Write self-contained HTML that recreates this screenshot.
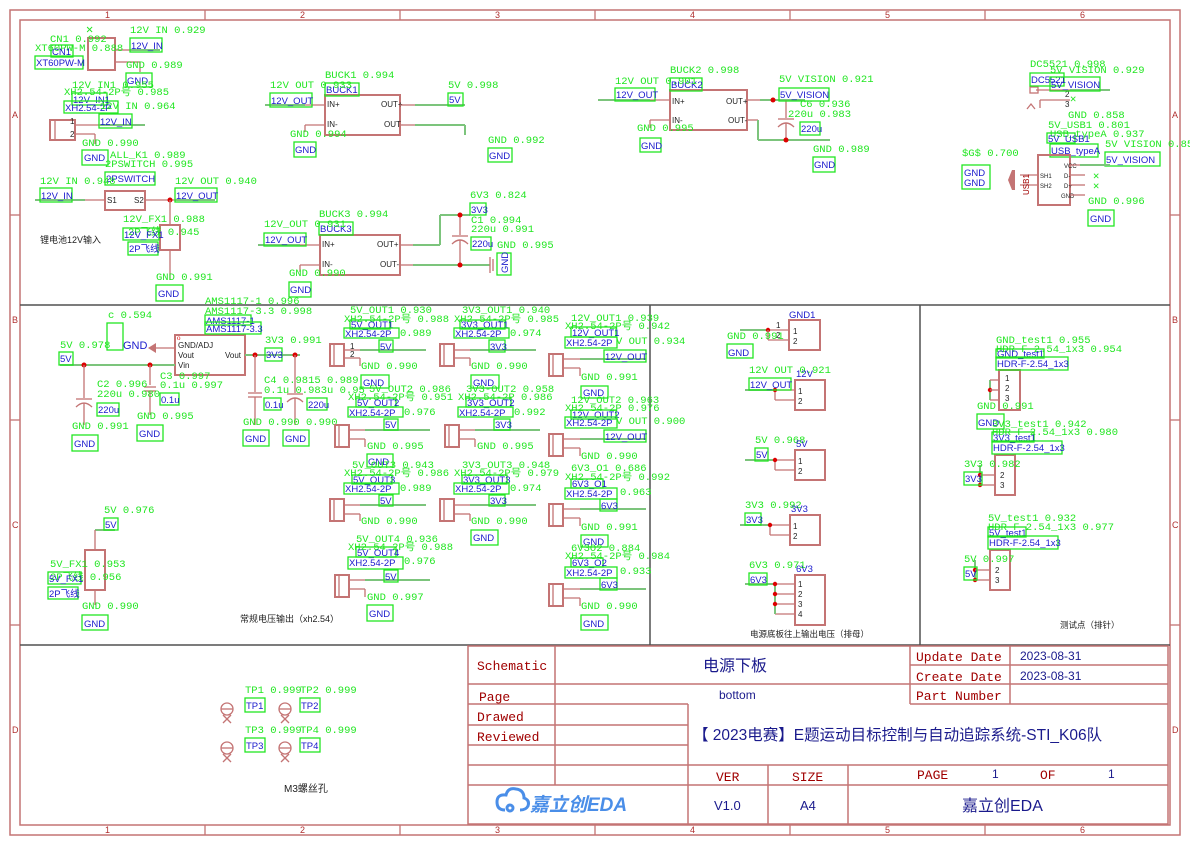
<!DOCTYPE html>
<html><head><meta charset="utf-8">
<style>
html,body{margin:0;padding:0;background:#fff;}
svg{display:block;}
.g{fill:#22e622;font-family:"Liberation Mono","Noto Sans CJK SC",monospace;font-size:10.5px;}
.b{fill:#1a1acc;font-family:"Liberation Sans","Noto Sans CJK SC",sans-serif;font-size:9.5px;}
.bx{fill:none;stroke:#22e622;stroke-width:1.3;}
.r{fill:none;stroke:#c47474;stroke-width:2;}
.rt{fill:none;stroke:#c47474;stroke-width:1.3;}
.w{fill:none;stroke:#7cc47c;stroke-width:2;}
.k{fill:#222;font-family:"Liberation Sans","Noto Sans CJK SC",sans-serif;font-size:8px;}
.rd{fill:#d00;}
.m{fill:#a00000;font-family:"Liberation Mono",monospace;font-size:13px;}
.tb{fill:#1a1a8c;font-family:"Liberation Sans","Noto Sans CJK SC",sans-serif;}
.ru{fill:#b03030;font-family:"Liberation Sans",sans-serif;font-size:9px;}
</style></head>
<body>
<svg width="1190" height="845" viewBox="0 0 1190 845" xmlns="http://www.w3.org/2000/svg">
<!-- frame -->
<rect x="10" y="10" width="1170" height="825" fill="none" stroke="#c47474" stroke-width="1.5"/>
<rect x="20" y="20" width="1150" height="805" fill="none" stroke="#c47474" stroke-width="1.5"/>
<g stroke="#c47474" stroke-width="1.3">
<line x1="205" y1="10" x2="205" y2="20"/><line x1="400" y1="10" x2="400" y2="20"/><line x1="595" y1="10" x2="595" y2="20"/><line x1="790" y1="10" x2="790" y2="20"/><line x1="985" y1="10" x2="985" y2="20"/>
<line x1="205" y1="825" x2="205" y2="835"/><line x1="400" y1="825" x2="400" y2="835"/><line x1="595" y1="825" x2="595" y2="835"/><line x1="790" y1="825" x2="790" y2="835"/><line x1="985" y1="825" x2="985" y2="835"/>
<line x1="10" y1="215" x2="20" y2="215"/><line x1="10" y1="420" x2="20" y2="420"/><line x1="10" y1="625" x2="20" y2="625"/>
<line x1="1170" y1="215" x2="1180" y2="215"/><line x1="1170" y1="420" x2="1180" y2="420"/><line x1="1170" y1="625" x2="1180" y2="625"/>
</g>
<g class="ru">
<text x="105" y="18">1</text><text x="300" y="18">2</text><text x="495" y="18">3</text><text x="690" y="18">4</text><text x="885" y="18">5</text><text x="1080" y="18">6</text>
<text x="105" y="833">1</text><text x="300" y="833">2</text><text x="495" y="833">3</text><text x="690" y="833">4</text><text x="885" y="833">5</text><text x="1080" y="833">6</text>
<text x="12" y="118">A</text><text x="12" y="323">B</text><text x="12" y="528">C</text><text x="12" y="733">D</text>
<text x="1172" y="118">A</text><text x="1172" y="323">B</text><text x="1172" y="528">C</text><text x="1172" y="733">D</text>
</g>
<!-- section lines -->
<g stroke="#505050" stroke-width="1.5">
<line x1="20" y1="305" x2="1170" y2="305"/>
<line x1="650" y1="305" x2="650" y2="645"/>
<line x1="920" y1="305" x2="920" y2="645"/>
<line x1="20" y1="645" x2="1170" y2="645"/>
</g>

<!-- ===== TOP LEFT: CN1 ===== -->
<rect class="r" x="88" y="38" width="27" height="32"/>
<text x="86" y="33" class="g" style="font-size:12px">✕</text>
<line class="rt" x1="115" y1="50" x2="130" y2="50"/><line class="rt" x1="115" y1="62" x2="130" y2="62"/>
<line class="w" x1="130" y1="50" x2="160" y2="50"/>
<line class="rt" x1="130" y1="62" x2="140" y2="62"/><line class="rt" x1="140" y1="62" x2="140" y2="72"/>
<text class="g" x="50" y="42">CN1 0.992</text>
<text class="g" x="35" y="51">XT60PW-M 0.888</text>
<rect class="bx" x="51" y="45" width="22" height="12"/><text class="b" x="52" y="55">CN1</text>
<rect class="bx" x="35" y="56" width="48" height="13"/><text class="b" x="36" y="66">XT60PW-M</text>
<text class="g" x="130" y="33">12V IN 0.929</text>
<rect class="bx" x="130" y="38" width="32" height="14"/><text class="b" x="131" y="49">12V_IN</text>
<text class="g" x="126" y="68">GND 0.989</text>
<rect class="bx" x="126" y="73" width="26" height="14"/><text class="b" x="127" y="84">GND</text>
<!-- 12V_IN1 -->
<rect class="r" x="50" y="120" width="25" height="20"/><line class="rt" x1="55" y1="120" x2="55" y2="140"/>
<line class="rt" x1="75" y1="125" x2="100" y2="125"/><line class="w" x1="100" y1="125" x2="145" y2="125"/>
<line class="rt" x1="75" y1="134" x2="95" y2="134"/><line class="rt" x1="95" y1="134" x2="95" y2="144"/>
<text class="k" x="70" y="124">1</text><text class="k" x="70" y="137">2</text>
<text class="g" x="72" y="88">12V IN1 0.955</text>
<text class="g" x="64" y="95">XH2.54-2P号 0.985</text>
<rect class="bx" x="72" y="93" width="35" height="12"/><text class="b" x="73" y="103">12V_IN1</text>
<rect class="bx" x="64" y="101" width="54" height="12"/><text class="b" x="65" y="111">XH2.54-2P</text>
<text class="g" x="100" y="109">12V IN 0.964</text>
<rect class="bx" x="99" y="114" width="33" height="14"/><text class="b" x="100" y="125">12V_IN</text>
<text class="g" x="82" y="146">GND 0.990</text>
<rect class="bx" x="82" y="150" width="26" height="15"/><text class="b" x="84" y="161">GND</text>
<!-- switch -->
<line class="w" x1="35" y1="200" x2="85" y2="200"/><line class="rt" x1="85" y1="200" x2="105" y2="200"/>
<rect class="r" x="105" y="191" width="40" height="19"/>
<text class="k" x="107" y="203">S1</text><text class="k" x="134" y="203">S2</text>
<line class="rt" x1="145" y1="200" x2="175" y2="200"/><line class="w" x1="175" y1="200" x2="215" y2="200"/>
<circle class="rd" cx="170" cy="200" r="2.5"/>
<line class="rt" x1="170" y1="200" x2="170" y2="225"/>
<rect class="r" x="160" y="225" width="20" height="25"/>
<line class="rt" x1="170" y1="250" x2="170" y2="280"/>
<text class="g" x="110" y="158">ALL_K1 0.989</text>
<text class="g" x="105" y="167">2PSWITCH 0.995</text>
<rect class="bx" x="105" y="172" width="50" height="13"/><text class="b" x="106" y="182">2PSWITCH</text>
<text class="g" x="40" y="184">12V IN 0.948</text>
<rect class="bx" x="40" y="188" width="32" height="14"/><text class="b" x="41" y="199">12V_IN</text>
<text class="g" x="175" y="184">12V OUT 0.940</text>
<rect class="bx" x="175" y="188" width="42" height="14"/><text class="b" x="176" y="199">12V_OUT</text>
<text class="g" x="123" y="222">12V_FX1 0.988</text>
<text class="g" x="128" y="235">2P飞线 0.945</text>
<rect class="bx" x="123" y="228" width="36" height="12"/><text class="b" x="124" y="238">12V_FX1</text>
<rect class="bx" x="128" y="242" width="30" height="13"/><text class="b" x="129" y="252">2P飞线</text>
<text x="40" y="243" class="k" style="font-size:9px">锂电池12V输入</text>
<text class="g" x="156" y="280">GND 0.991</text>
<rect class="bx" x="156" y="285" width="27" height="16"/><text class="b" x="158" y="297">GND</text>

<!-- BUCK1 -->
<rect class="r" x="325" y="95" width="75" height="40"/>
<text class="k" x="327" y="107">IN+</text><text class="k" x="327" y="127">IN-</text>
<text class="k" x="381" y="107">OUT+</text><text class="k" x="384" y="127">OUT-</text>
<line class="w" x1="265" y1="105" x2="305" y2="105"/><line class="rt" x1="305" y1="105" x2="325" y2="105"/>
<line class="rt" x1="305" y1="125" x2="325" y2="125"/><line class="rt" x1="305" y1="125" x2="305" y2="132"/>
<line class="rt" x1="400" y1="105" x2="415" y2="105"/><line class="w" x1="415" y1="105" x2="465" y2="105"/>
<line class="rt" x1="400" y1="125" x2="415" y2="125"/><line class="w" x1="415" y1="125" x2="465" y2="125"/><line class="w" x1="465" y1="125" x2="465" y2="135"/>
<text class="g" x="325" y="78">BUCK1 0.994</text>
<rect class="bx" x="325" y="83" width="34" height="13"/><text class="b" x="326" y="93">BUCK1</text>
<text class="g" x="270" y="88">12V OUT 0.933</text>
<rect class="bx" x="270" y="93" width="42" height="14"/><text class="b" x="271" y="104">12V_OUT</text>
<text class="g" x="290" y="137">GND 0.994</text>
<rect class="bx" x="294" y="142" width="22" height="15"/><text class="b" x="295" y="153">GND</text>
<text class="g" x="448" y="88">5V 0.998</text>
<rect class="bx" x="448" y="93" width="15" height="13"/><text class="b" x="449" y="103">5V</text>
<text class="g" x="488" y="143">GND 0.992</text>
<rect class="bx" x="488" y="148" width="24" height="14"/><text class="b" x="489" y="159">GND</text>

<!-- BUCK3 -->
<rect class="r" x="320" y="235" width="80" height="40"/>
<text class="k" x="322" y="247">IN+</text><text class="k" x="322" y="267">IN-</text>
<text class="k" x="377" y="247">OUT+</text><text class="k" x="380" y="267">OUT-</text>
<line class="w" x1="258" y1="245" x2="300" y2="245"/><line class="rt" x1="300" y1="245" x2="320" y2="245"/>
<line class="rt" x1="300" y1="265" x2="320" y2="265"/><line class="rt" x1="300" y1="265" x2="300" y2="272"/>
<line class="rt" x1="400" y1="245" x2="413" y2="245"/><line class="w" x1="413" y1="245" x2="440" y2="245"/><line class="w" x1="440" y1="245" x2="440" y2="215"/><line class="w" x1="440" y1="215" x2="470" y2="215"/>
<line class="rt" x1="400" y1="265" x2="413" y2="265"/><line class="w" x1="413" y1="265" x2="490" y2="265"/>
<line class="rt" x1="460" y1="215" x2="460" y2="235"/><line class="rt" x1="452" y1="236" x2="468" y2="236"/><path class="rt" d="M452 244 Q460 236 468 244"/><line class="rt" x1="460" y1="240" x2="460" y2="265"/>
<circle class="rd" cx="460" cy="215" r="2.5"/><circle class="rd" cx="460" cy="265" r="2.5"/>
<line class="rt" x1="490" y1="257" x2="490" y2="273"/><line class="rt" x1="493" y1="259" x2="493" y2="271"/>
<text class="g" x="319" y="217">BUCK3 0.994</text>
<rect class="bx" x="319" y="222" width="34" height="13"/><text class="b" x="320" y="232">BUCK3</text>
<text class="g" x="264" y="227">12V_OUT 0.931</text>
<rect class="bx" x="264" y="233" width="42" height="13"/><text class="b" x="265" y="243">12V_OUT</text>
<text class="g" x="289" y="276">GND 0.990</text>
<rect class="bx" x="289" y="282" width="22" height="15"/><text class="b" x="290" y="293">GND</text>
<text class="g" x="470" y="198">6V3 0.824</text>
<rect class="bx" x="470" y="203" width="16" height="12"/><text class="b" x="471" y="213">3V3</text>
<text class="g" x="471" y="223">C1 0.994</text>
<text class="g" x="471" y="232">220u 0.991</text>
<rect class="bx" x="471" y="237" width="20" height="13"/><text class="b" x="472" y="247">220u</text>
<text class="g" x="497" y="248">GND 0.995</text>
<rect class="bx" x="497" y="253" width="14" height="22"/><text class="b" x="0" y="0" transform="translate(508,273) rotate(-90)">GND</text>

<!-- BUCK2 -->
<rect class="r" x="670" y="90" width="77" height="40"/>
<text class="k" x="672" y="104">IN+</text><text class="k" x="672" y="123">IN-</text>
<text class="k" x="726" y="104">OUT+</text><text class="k" x="728" y="123">OUT-</text>
<line class="w" x1="598" y1="100" x2="650" y2="100"/><line class="rt" x1="650" y1="100" x2="670" y2="100"/>
<line class="rt" x1="650" y1="120" x2="670" y2="120"/><line class="rt" x1="650" y1="120" x2="650" y2="128"/>
<line class="rt" x1="747" y1="100" x2="760" y2="100"/><line class="w" x1="760" y1="100" x2="805" y2="100"/>
<line class="rt" x1="747" y1="120" x2="758" y2="120"/><line class="w" x1="758" y1="120" x2="758" y2="140"/><line class="w" x1="758" y1="140" x2="830" y2="140"/>
<line class="rt" x1="786" y1="100" x2="786" y2="118"/><line class="rt" x1="778" y1="119" x2="794" y2="119"/><path class="rt" d="M778 127 Q786 119 794 127"/><line class="rt" x1="786" y1="123" x2="786" y2="140"/>
<circle class="rd" cx="773" cy="100" r="2.5"/><circle class="rd" cx="786" cy="140" r="2.5"/>
<text class="g" x="670" y="73">BUCK2 0.998</text>
<rect class="bx" x="670" y="78" width="32" height="13"/><text class="b" x="671" y="88">BUCK2</text>
<text class="g" x="615" y="84">12V OUT 0.901</text>
<rect class="bx" x="615" y="88" width="40" height="13"/><text class="b" x="616" y="98">12V_OUT</text>
<text class="g" x="637" y="131">GND 0.995</text>
<rect class="bx" x="640" y="138" width="21" height="14"/><text class="b" x="641" y="149">GND</text>
<text class="g" x="779" y="82">5V VISION 0.921</text>
<rect class="bx" x="779" y="88" width="50" height="13"/><text class="b" x="780" y="98">5V_VISION</text>
<text class="g" x="800" y="107">C6 0.936</text>
<text class="g" x="788" y="117">220u 0.983</text>
<rect class="bx" x="800" y="122" width="20" height="13"/><text class="b" x="801" y="132">220u</text>
<text class="g" x="813" y="152">GND 0.989</text>
<rect class="bx" x="813" y="157" width="22" height="15"/><text class="b" x="814" y="168">GND</text>

<!-- DC5521 / USB -->
<rect class="rt" x="1030" y="87" width="8" height="6"/>
<line class="rt" x1="1036" y1="90" x2="1070" y2="90"/><line class="w" x1="1070" y1="90" x2="1110" y2="90"/>
<line class="rt" x1="1040" y1="100" x2="1070" y2="100"/><line class="rt" x1="1040" y1="100" x2="1040" y2="108"/>
<path class="rt" d="M1027 109 L1031 104 L1035 109"/>
<text class="k" x="1065" y="97">2</text><text class="k" x="1065" y="107">3</text>
<text class="g" x="1070" y="102">✕</text>
<text class="g" x="1030" y="67">DC5521 0.998</text>
<rect class="bx" x="1030" y="73" width="34" height="13"/><text class="b" x="1031" y="83">DC5521</text>
<text class="g" x="1050" y="73">5V VISION 0.929</text>
<rect class="bx" x="1050" y="77" width="50" height="14"/><text class="b" x="1051" y="88">5V_VISION</text>
<text class="g" x="1068" y="118">GND 0.858</text>
<text class="g" x="1048" y="128">5V_USB1 0.801</text>
<text class="g" x="1050" y="137">USB_typeA 0.937</text>
<rect class="bx" x="1047" y="133" width="28" height="10"/><text class="b" x="1048" y="142">5V_USB1</text>
<rect class="bx" x="1050" y="144" width="48" height="13"/><text class="b" x="1051" y="154">USB_typeA</text>
<text class="g" x="1105" y="147">5V VISION 0.85</text>
<rect class="bx" x="1105" y="152" width="55" height="14"/><text class="b" x="1106" y="163">5V_VISION</text>
<rect class="r" x="1038" y="155" width="32" height="50"/>
<text class="k" x="1064" y="168" style="font-size:6px">VCC</text><text class="k" x="1064" y="178" style="font-size:6px">D-</text><text class="k" x="1064" y="188" style="font-size:6px">D+</text><text class="k" x="1061" y="198" style="font-size:6px">GND</text>
<text class="k" x="1040" y="178" style="font-size:6px">SH1</text><text class="k" x="1040" y="188" style="font-size:6px">SH2</text>
<line class="rt" x1="1070" y1="165" x2="1080" y2="165"/><line class="w" x1="1080" y1="165" x2="1110" y2="165"/>
<line class="rt" x1="1070" y1="175" x2="1085" y2="175"/><line class="rt" x1="1070" y1="185" x2="1085" y2="185"/><line class="rt" x1="1070" y1="195" x2="1085" y2="195"/>
<text class="g" x="1093" y="179">✕</text><text class="g" x="1093" y="189">✕</text>
<line class="rt" x1="1020" y1="175" x2="1038" y2="175"/><line class="rt" x1="1020" y1="185" x2="1038" y2="185"/>
<path d="M1012 170 L1008 180 L1012 190 L1015 190 L1015 170 Z" fill="#c47474"/>
<text x="0" y="0" transform="translate(1029,195) rotate(-90)" style="fill:#a00000;font-family:'Liberation Sans';font-size:8px">USB1</text>
<text class="g" x="962" y="156">$G$ 0.700</text>
<rect class="bx" x="962" y="165" width="28" height="24"/><text class="b" x="964" y="176">GND</text><text class="b" x="964" y="186">GND</text>
<text class="g" x="1088" y="204">GND 0.996</text>
<rect class="bx" x="1088" y="210" width="26" height="16"/><text class="b" x="1090" y="222">GND</text>

<!-- ===== MIDDLE: AMS1117 ===== -->
<rect class="r" x="175" y="335" width="70" height="40"/>
<text class="k" x="178" y="348">GND/ADJ</text><text class="k" x="178" y="358">Vout</text><text class="k" x="225" y="358">Vout</text><text class="k" x="178" y="368">Vin</text>
<text x="177" y="340" style="fill:#d00;font-size:7px">o</text>
<rect class="bx" x="107" y="323" width="16" height="27"/>
<text class="b" x="123" y="349" style="font-size:11px">GND</text>
<path d="M148 348 L156 343 L156 353 Z" fill="#c47474"/><line class="rt" x1="156" y1="348" x2="175" y2="348"/>
<line class="w" x1="60" y1="365" x2="175" y2="365"/>
<line class="w" x1="245" y1="355" x2="300" y2="355"/>
<circle class="rd" cx="84" cy="365" r="2.5"/><circle class="rd" cx="150" cy="365" r="2.5"/>
<circle class="rd" cx="255" cy="355" r="2.5"/><circle class="rd" cx="295" cy="355" r="2.5"/>
<line class="rt" x1="84" y1="365" x2="84" y2="398"/><line class="rt" x1="76" y1="399" x2="92" y2="399"/><path class="rt" d="M76 407 Q84 399 92 407"/><line class="rt" x1="84" y1="403" x2="84" y2="425"/>
<line class="rt" x1="150" y1="365" x2="150" y2="385"/><line class="rt" x1="144" y1="387" x2="156" y2="387"/><line class="rt" x1="144" y1="391" x2="156" y2="391"/><line class="rt" x1="150" y1="391" x2="150" y2="415"/>
<line class="rt" x1="255" y1="355" x2="255" y2="392"/><line class="rt" x1="248" y1="393" x2="262" y2="393"/><line class="rt" x1="248" y1="397" x2="262" y2="397"/><line class="rt" x1="255" y1="397" x2="255" y2="425"/>
<line class="rt" x1="295" y1="355" x2="295" y2="393"/><line class="rt" x1="287" y1="394" x2="303" y2="394"/><path class="rt" d="M287 402 Q295 394 303 402"/><line class="rt" x1="295" y1="398" x2="295" y2="425"/>
<text class="g" x="205" y="304">AMS1117-1 0.996</text>
<text class="g" x="205" y="314">AMS1117-3.3 0.998</text>
<rect class="bx" x="205" y="315" width="46" height="10"/><text class="b" x="206" y="324">AMS1117-1</text>
<rect class="bx" x="205" y="322" width="56" height="12"/><text class="b" x="206" y="332">AMS1117-3.3</text>
<text class="g" x="108" y="318">c 0.594</text>
<text class="g" x="60" y="348">5V 0.978</text>
<rect class="bx" x="59" y="352" width="14" height="13"/><text class="b" x="60" y="362">5V</text>
<text class="g" x="265" y="343">3V3 0.991</text>
<rect class="bx" x="265" y="348" width="17" height="13"/><text class="b" x="266" y="358">3V3</text>
<text class="g" x="97" y="387">C2 0.996</text>
<text class="g" x="97" y="397">220u 0.980</text>
<rect class="bx" x="97" y="403" width="22" height="13"/><text class="b" x="98" y="413">220u</text>
<text class="g" x="160" y="379">C3 0.997</text>
<text class="g" x="160" y="388">0.1u 0.997</text>
<rect class="bx" x="160" y="393" width="19" height="12"/><text class="b" x="161" y="403">0.1u</text>
<text class="g" x="137" y="419">GND 0.995</text>
<rect class="bx" x="137" y="425" width="26" height="16"/><text class="b" x="139" y="437">GND</text>
<text class="g" x="72" y="429">GND 0.991</text>
<rect class="bx" x="72" y="435" width="26" height="16"/><text class="b" x="74" y="447">GND</text>
<text class="g" x="264" y="383">C4 0.9815 0.989</text>
<text class="g" x="264" y="393">0.1u 0.983u 0.95</text>
<rect class="bx" x="264" y="398" width="17" height="12"/><text class="b" x="265" y="408">0.1u</text>
<rect class="bx" x="307" y="398" width="20" height="12"/><text class="b" x="308" y="408">220u</text>
<text class="g" x="243" y="425">GND 0.990 0.990</text>
<rect class="bx" x="243" y="430" width="26" height="16"/><text class="b" x="245" y="442">GND</text>
<rect class="bx" x="283" y="430" width="26" height="16"/><text class="b" x="285" y="442">GND</text>
<!-- 5V_FX1 -->
<line class="w" x1="95" y1="530" x2="115" y2="530"/><line class="rt" x1="95" y1="530" x2="95" y2="550"/>
<rect class="r" x="85" y="550" width="20" height="40"/>
<line class="rt" x1="95" y1="590" x2="95" y2="605"/>
<text class="g" x="104" y="513">5V 0.976</text>
<rect class="bx" x="104" y="518" width="14" height="12"/><text class="b" x="105" y="528">5V</text>
<text class="g" x="50" y="567">5V_FX1 0.953</text>
<text class="g" x="50" y="580">2P飞线 0.956</text>
<rect class="bx" x="48" y="572" width="33" height="12"/><text class="b" x="49" y="582">5V_FX1</text>
<rect class="bx" x="48" y="587" width="30" height="12"/><text class="b" x="49" y="597">2P飞线</text>
<text class="g" x="82" y="609">GND 0.990</text>
<rect class="bx" x="82" y="615" width="26" height="15"/><text class="b" x="84" y="627">GND</text>
<text x="240" y="622" class="k" style="font-size:9px">常规电压输出（xh2.54）</text>

<!-- XH connectors col1 -->
<g>
<rect class="r" x="330" y="344" width="14" height="22"/><line class="rt" x1="334" y1="344" x2="334" y2="366"/>
<line class="rt" x1="344" y1="350" x2="360" y2="350"/><line class="w" x1="360" y1="350" x2="426" y2="350"/>
<line class="rt" x1="344" y1="358" x2="360" y2="358"/><line class="rt" x1="360" y1="358" x2="360" y2="366"/>
<text class="k" x="350" y="349">1</text><text class="k" x="350" y="357">2</text>
<text class="g" x="350" y="313">5V_OUT1 0.930</text>
<text class="g" x="344" y="322">XH2.54-2P号 0.988</text>
<rect class="bx" x="350" y="320" width="40" height="9"/><text class="b" x="351" y="328">5V_OUT1</text>
<rect class="bx" x="344" y="328" width="55" height="10"/><text class="b" x="345" y="337">XH2.54-2P</text><text class="g" x="400" y="336">0.989</text>
<rect class="bx" x="379" y="340" width="14" height="12"/><text class="b" x="380" y="350">5V</text>
<text class="g" x="361" y="369">GND 0.990</text>
<rect class="bx" x="361" y="375" width="28" height="13"/><text class="b" x="363" y="386">GND</text>
</g>
<g>
<rect class="r" x="335" y="425" width="14" height="22"/><line class="rt" x1="339" y1="425" x2="339" y2="447"/>
<line class="rt" x1="349" y1="430" x2="365" y2="430"/><line class="w" x1="365" y1="430" x2="430" y2="430"/>
<line class="rt" x1="349" y1="439" x2="365" y2="439"/><line class="rt" x1="365" y1="439" x2="365" y2="447"/>
<text class="g" x="369" y="392">5V_OUT2 0.986</text>
<text class="g" x="348" y="400">XH2.54-2P号 0.951</text>
<rect class="bx" x="356" y="398" width="40" height="9"/><text class="b" x="357" y="406">5V_OUT2</text>
<rect class="bx" x="348" y="407" width="55" height="10"/><text class="b" x="349" y="416">XH2.54-2P</text><text class="g" x="404" y="415">0.976</text>
<rect class="bx" x="384" y="419" width="14" height="11"/><text class="b" x="385" y="428">5V</text>
<text class="g" x="367" y="449">GND 0.995</text>
<rect class="bx" x="367" y="454" width="26" height="13"/><text class="b" x="368" y="465">GND</text>
</g>
<g>
<rect class="r" x="330" y="499" width="14" height="22"/><line class="rt" x1="334" y1="499" x2="334" y2="521"/>
<line class="rt" x1="344" y1="505" x2="360" y2="505"/><line class="w" x1="360" y1="505" x2="426" y2="505"/>
<line class="rt" x1="344" y1="514" x2="360" y2="514"/><line class="rt" x1="360" y1="514" x2="360" y2="521"/>
<text class="g" x="352" y="468">5V_OUT3 0.943</text>
<text class="g" x="344" y="476">XH2.54-2P号 0.986</text>
<rect class="bx" x="352" y="475" width="40" height="9"/><text class="b" x="353" y="483">5V_OUT3</text>
<rect class="bx" x="344" y="483" width="55" height="11"/><text class="b" x="345" y="492">XH2.54-2P</text><text class="g" x="400" y="491">0.989</text>
<rect class="bx" x="379" y="495" width="14" height="11"/><text class="b" x="380" y="504">5V</text>
<text class="g" x="361" y="524">GND 0.990</text>
</g>
<g>
<rect class="r" x="335" y="575" width="14" height="22"/><line class="rt" x1="339" y1="575" x2="339" y2="597"/>
<line class="rt" x1="349" y1="580" x2="365" y2="580"/><line class="w" x1="365" y1="580" x2="430" y2="580"/>
<line class="rt" x1="349" y1="589" x2="365" y2="589"/><line class="rt" x1="365" y1="589" x2="365" y2="597"/>
<text class="g" x="356" y="542">5V_OUT4 0.936</text>
<text class="g" x="348" y="550">XH2.54-2P号 0.988</text>
<rect class="bx" x="356" y="547" width="40" height="10"/><text class="b" x="357" y="556">5V_OUT4</text>
<rect class="bx" x="348" y="557" width="55" height="12"/><text class="b" x="349" y="566">XH2.54-2P</text><text class="g" x="404" y="564">0.976</text>
<rect class="bx" x="384" y="570" width="14" height="12"/><text class="b" x="385" y="580">5V</text>
<text class="g" x="367" y="600">GND 0.997</text>
<rect class="bx" x="367" y="605" width="26" height="16"/><text class="b" x="369" y="617">GND</text>
</g>
<!-- col2 -->
<g transform="translate(110,0)">
<rect class="r" x="330" y="344" width="14" height="22"/><line class="rt" x1="334" y1="344" x2="334" y2="366"/>
<line class="rt" x1="344" y1="350" x2="360" y2="350"/><line class="w" x1="360" y1="350" x2="426" y2="350"/>
<line class="rt" x1="344" y1="358" x2="360" y2="358"/><line class="rt" x1="360" y1="358" x2="360" y2="366"/>
<text class="g" x="352" y="313">3V3_OUT1 0.940</text>
<text class="g" x="344" y="322">XH2.54-2P号 0.985</text>
<rect class="bx" x="350" y="320" width="45" height="9"/><text class="b" x="351" y="328">3V3_OUT1</text>
<rect class="bx" x="344" y="328" width="55" height="10"/><text class="b" x="345" y="337">XH2.54-2P</text><text class="g" x="400" y="336">0.974</text>
<rect class="bx" x="379" y="340" width="16" height="12"/><text class="b" x="380" y="350">3V3</text>
<text class="g" x="361" y="369">GND 0.990</text>
<rect class="bx" x="361" y="375" width="28" height="13"/><text class="b" x="363" y="386">GND</text>
</g>
<g transform="translate(110,0)">
<rect class="r" x="335" y="425" width="14" height="22"/><line class="rt" x1="339" y1="425" x2="339" y2="447"/>
<line class="rt" x1="349" y1="430" x2="365" y2="430"/><line class="w" x1="365" y1="430" x2="430" y2="430"/>
<line class="rt" x1="349" y1="439" x2="365" y2="439"/><line class="rt" x1="365" y1="439" x2="365" y2="447"/>
<text class="g" x="356" y="392">3V3-OUT2 0.958</text>
<text class="g" x="348" y="400">XH2.54-2P 0.986</text>
<rect class="bx" x="356" y="398" width="45" height="9"/><text class="b" x="357" y="406">3V3_OUT2</text>
<rect class="bx" x="348" y="407" width="55" height="10"/><text class="b" x="349" y="416">XH2.54-2P</text><text class="g" x="404" y="415">0.992</text>
<rect class="bx" x="384" y="419" width="16" height="11"/><text class="b" x="385" y="428">3V3</text>
<text class="g" x="367" y="449">GND 0.995</text>
</g>
<g transform="translate(110,0)">
<rect class="r" x="330" y="499" width="14" height="22"/><line class="rt" x1="334" y1="499" x2="334" y2="521"/>
<line class="rt" x1="344" y1="505" x2="360" y2="505"/><line class="w" x1="360" y1="505" x2="426" y2="505"/>
<line class="rt" x1="344" y1="514" x2="360" y2="514"/><line class="rt" x1="360" y1="514" x2="360" y2="521"/>
<text class="g" x="352" y="468">3V3_OUT3 0.948</text>
<text class="g" x="344" y="476">XH2.54-2P号 0.979</text>
<rect class="bx" x="352" y="475" width="45" height="9"/><text class="b" x="353" y="483">3V3_OUT3</text>
<rect class="bx" x="344" y="483" width="55" height="11"/><text class="b" x="345" y="492">XH2.54-2P</text><text class="g" x="400" y="491">0.974</text>
<rect class="bx" x="379" y="495" width="16" height="11"/><text class="b" x="380" y="504">3V3</text>
<text class="g" x="361" y="524">GND 0.990</text>
<rect class="bx" x="361" y="530" width="27" height="15"/><text class="b" x="363" y="541">GND</text>
</g>
<!-- col3 -->
<g>
<rect class="r" x="549" y="354" width="14" height="22"/><line class="rt" x1="553" y1="354" x2="553" y2="376"/>
<line class="rt" x1="563" y1="359" x2="580" y2="359"/><line class="w" x1="580" y1="359" x2="646" y2="359"/>
<line class="rt" x1="563" y1="368" x2="580" y2="368"/><line class="rt" x1="580" y1="368" x2="580" y2="376"/>
<text class="g" x="571" y="321">12V_OUT1 0.939</text>
<text class="g" x="565" y="329">XH2.54-2P号 0.942</text>
<rect class="bx" x="571" y="327" width="45" height="10"/><text class="b" x="572" y="336">12V_OUT1</text>
<rect class="bx" x="565" y="337" width="52" height="11"/><text class="b" x="566" y="346">XH2.54-2P</text><text class="g" x="616" y="344">V OUT 0.934</text>
<rect class="bx" x="604" y="350" width="42" height="12"/><text class="b" x="605" y="360">12V_OUT</text>
<text class="g" x="581" y="380">GND 0.991</text>
<rect class="bx" x="581" y="386" width="27" height="12"/><text class="b" x="583" y="396">GND</text>
</g>
<g>
<rect class="r" x="549" y="434" width="14" height="22"/><line class="rt" x1="553" y1="434" x2="553" y2="456"/>
<line class="rt" x1="563" y1="439" x2="580" y2="439"/><line class="w" x1="580" y1="439" x2="646" y2="439"/>
<line class="rt" x1="563" y1="448" x2="580" y2="448"/><line class="rt" x1="580" y1="448" x2="580" y2="456"/>
<text class="g" x="571" y="403">12V_OUT2 0.963</text>
<text class="g" x="565" y="411">XH2.54-2P 0.976</text>
<rect class="bx" x="571" y="410" width="45" height="9"/><text class="b" x="572" y="418">12V_OUT2</text>
<rect class="bx" x="565" y="417" width="52" height="11"/><text class="b" x="566" y="426">XH2.54-2P</text><text class="g" x="616" y="424">V OUT 0.900</text>
<rect class="bx" x="604" y="430" width="42" height="12"/><text class="b" x="605" y="440">12V_OUT</text>
<text class="g" x="581" y="459">GND 0.990</text>
</g>
<g>
<rect class="r" x="549" y="504" width="14" height="22"/><line class="rt" x1="553" y1="504" x2="553" y2="526"/>
<line class="rt" x1="563" y1="509" x2="580" y2="509"/><line class="w" x1="580" y1="509" x2="646" y2="509"/>
<line class="rt" x1="563" y1="518" x2="580" y2="518"/><line class="rt" x1="580" y1="518" x2="580" y2="526"/>
<text class="g" x="571" y="471">6V3_O1 0.686</text>
<text class="g" x="565" y="480">XH2.54-2P号 0.992</text>
<rect class="bx" x="571" y="479" width="32" height="9"/><text class="b" x="572" y="487">6V3_O1</text>
<rect class="bx" x="565" y="488" width="52" height="11"/><text class="b" x="566" y="497">XH2.54-2P</text><text class="g" x="620" y="495">0.963</text>
<rect class="bx" x="600" y="499" width="17" height="12"/><text class="b" x="601" y="509">6V3</text>
<text class="g" x="581" y="530">GND 0.991</text>
<rect class="bx" x="581" y="535" width="27" height="12"/><text class="b" x="583" y="545">GND</text>
</g>
<g>
<rect class="r" x="549" y="584" width="14" height="22"/><line class="rt" x1="553" y1="584" x2="553" y2="606"/>
<line class="rt" x1="563" y1="589" x2="580" y2="589"/><line class="w" x1="580" y1="589" x2="646" y2="589"/>
<line class="rt" x1="563" y1="598" x2="580" y2="598"/><line class="rt" x1="580" y1="598" x2="580" y2="606"/>
<text class="g" x="571" y="551">6V3O2 0.884</text>
<text class="g" x="565" y="559">XH2.54-2P号 0.984</text>
<rect class="bx" x="571" y="558" width="32" height="9"/><text class="b" x="572" y="566">6V3_O2</text>
<rect class="bx" x="565" y="567" width="52" height="11"/><text class="b" x="566" y="576">XH2.54-2P</text><text class="g" x="620" y="574">0.933</text>
<rect class="bx" x="600" y="578" width="17" height="12"/><text class="b" x="601" y="588">6V3</text>
<text class="g" x="581" y="609">GND 0.990</text>
<rect class="bx" x="581" y="615" width="27" height="15"/><text class="b" x="583" y="627">GND</text>
</g>

<!-- ===== power board headers ===== -->
<rect class="r" x="789" y="320" width="31" height="30"/>
<text class="k" x="793" y="334">1</text><text class="k" x="793" y="344">2</text>
<line class="rt" x1="768" y1="330" x2="789" y2="330"/><line class="rt" x1="768" y1="340" x2="789" y2="340"/><line class="w" x1="740" y1="330" x2="768" y2="330"/>
<circle class="rd" cx="768" cy="330" r="2.2"/><line class="rt" x1="768" y1="330" x2="768" y2="340"/>
<text class="k" x="776" y="328">1</text><text class="k" x="776" y="338">2</text>
<text class="b" x="789" y="318">GND1</text>
<text class="g" x="727" y="339">GND 0.991</text>
<rect class="bx" x="727" y="344" width="26" height="14"/><text class="b" x="728" y="356">GND</text>

<rect class="r" x="795" y="380" width="30" height="30"/>
<text class="k" x="798" y="394">1</text><text class="k" x="798" y="404">2</text>
<line class="w" x1="745" y1="390" x2="775" y2="390"/><line class="rt" x1="775" y1="390" x2="795" y2="390"/><line class="rt" x1="775" y1="400" x2="795" y2="400"/><line class="rt" x1="775" y1="390" x2="775" y2="400"/>
<circle class="rd" cx="775" cy="390" r="2.2"/>
<text class="g" x="749" y="373">12V OUT 0.921</text><text class="b" x="796" y="377">12V</text>
<rect class="bx" x="749" y="378" width="42" height="12"/><text class="b" x="750" y="388">12V_OUT</text>

<rect class="r" x="795" y="450" width="30" height="30"/>
<text class="k" x="798" y="464">1</text><text class="k" x="798" y="474">2</text>
<line class="w" x1="745" y1="460" x2="775" y2="460"/><line class="rt" x1="775" y1="460" x2="795" y2="460"/><line class="rt" x1="775" y1="470" x2="795" y2="470"/><line class="rt" x1="775" y1="460" x2="775" y2="470"/>
<circle class="rd" cx="775" cy="460" r="2.2"/>
<text class="g" x="755" y="443">5V 0.968</text><text class="b" x="796" y="447">5V</text>
<rect class="bx" x="755" y="448" width="13" height="13"/><text class="b" x="756" y="458">5V</text>

<rect class="r" x="790" y="515" width="30" height="30"/>
<text class="k" x="793" y="529">1</text><text class="k" x="793" y="539">2</text>
<line class="w" x1="740" y1="525" x2="770" y2="525"/><line class="rt" x1="770" y1="525" x2="790" y2="525"/><line class="rt" x1="770" y1="535" x2="790" y2="535"/><line class="rt" x1="770" y1="525" x2="770" y2="535"/>
<circle class="rd" cx="770" cy="525" r="2.2"/>
<text class="g" x="745" y="508">3V3 0.992</text><text class="b" x="791" y="512">3V3</text>
<rect class="bx" x="745" y="513" width="16" height="12"/><text class="b" x="746" y="523">3V3</text>

<rect class="r" x="795" y="575" width="30" height="50"/>
<text class="k" x="798" y="587">1</text><text class="k" x="798" y="597">2</text><text class="k" x="798" y="607">3</text><text class="k" x="798" y="617">4</text>
<line class="w" x1="745" y1="584" x2="775" y2="584"/>
<line class="rt" x1="775" y1="584" x2="795" y2="584"/><line class="rt" x1="775" y1="594" x2="795" y2="594"/><line class="rt" x1="775" y1="604" x2="795" y2="604"/><line class="rt" x1="775" y1="614" x2="795" y2="614"/>
<line class="w" x1="775" y1="584" x2="775" y2="614"/>
<circle class="rd" cx="775" cy="584" r="2.2"/><circle class="rd" cx="775" cy="594" r="2.2"/><circle class="rd" cx="775" cy="604" r="2.2"/>
<text class="g" x="749" y="568">6V3 0.971</text><text class="b" x="796" y="572">6V3</text>
<rect class="bx" x="749" y="573" width="18" height="12"/><text class="b" x="750" y="583">6V3</text>
<text x="750" y="637" class="k" style="font-size:8.5px">电源底板往上输出电压（排母）</text>

<!-- test points -->
<rect class="r" x="999" y="370" width="21" height="40"/>
<text class="k" x="1005" y="381">1</text><text class="k" x="1005" y="391">2</text><text class="k" x="1005" y="401">3</text>
<line class="w" x1="990" y1="380" x2="990" y2="400"/><circle class="rd" cx="990" cy="390" r="2.2"/>
<line class="rt" x1="990" y1="380" x2="999" y2="380"/><line class="rt" x1="990" y1="390" x2="999" y2="390"/><line class="rt" x1="990" y1="400" x2="999" y2="400"/>
<text class="g" x="996" y="343">GND_test1 0.955</text>
<text class="g" x="996" y="352">HDR-F-2.54_1x3 0.954</text>
<rect class="bx" x="996" y="349" width="48" height="9"/><text class="b" x="997" y="357">GND_test1</text>
<rect class="bx" x="996" y="357" width="72" height="13"/><text class="b" x="997" y="367">HDR-F-2.54_1x3</text>
<text class="g" x="977" y="409">GND 0.991</text>
<rect class="bx" x="977" y="414" width="27" height="15"/><text class="b" x="978" y="426">GND</text>

<rect class="r" x="995" y="455" width="20" height="40"/>
<text class="k" x="1000" y="478">2</text><text class="k" x="1000" y="488">3</text>
<line class="w" x1="980" y1="465" x2="980" y2="485"/><circle class="rd" cx="980" cy="475" r="2.2"/><circle class="rd" cx="980" cy="485" r="2.2"/>
<line class="rt" x1="980" y1="475" x2="995" y2="475"/><line class="rt" x1="980" y1="485" x2="995" y2="485"/>
<text class="g" x="992" y="427">3V3_test1 0.942</text>
<text class="g" x="992" y="435">HDR-F-2.54_1x3 0.980</text>
<rect class="bx" x="992" y="432" width="42" height="10"/><text class="b" x="993" y="441">3V3_test1</text>
<rect class="bx" x="992" y="441" width="70" height="13"/><text class="b" x="993" y="451">HDR-F-2.54_1x3</text>
<text class="g" x="964" y="467">3V3 0.982</text>
<rect class="bx" x="964" y="472" width="18" height="13"/><text class="b" x="965" y="482">3V3</text>

<rect class="r" x="990" y="550" width="20" height="40"/>
<text class="k" x="995" y="573">2</text><text class="k" x="995" y="583">3</text>
<line class="w" x1="975" y1="560" x2="975" y2="580"/><circle class="rd" cx="975" cy="570" r="2.2"/><circle class="rd" cx="975" cy="580" r="2.2"/>
<line class="rt" x1="975" y1="570" x2="990" y2="570"/><line class="rt" x1="975" y1="580" x2="990" y2="580"/>
<text class="g" x="988" y="521">5V_test1 0.932</text>
<text class="g" x="988" y="530">HDR-F-2.54_1x3 0.977</text>
<rect class="bx" x="988" y="527" width="38" height="10"/><text class="b" x="989" y="536">5V_test1</text>
<rect class="bx" x="988" y="536" width="70" height="13"/><text class="b" x="989" y="546">HDR-F-2.54_1x3</text>
<text class="g" x="964" y="562">5V 0.997</text>
<rect class="bx" x="964" y="567" width="13" height="13"/><text class="b" x="965" y="577">5V</text>
<text x="1060" y="628" class="k" style="font-size:8.5px">测试点（排针）</text>

<!-- ===== bottom left: screw holes ===== -->
<g fill="none" stroke="#c47474" stroke-width="1.3">
<circle cx="227" cy="709" r="6"/><line x1="221" y1="709" x2="233" y2="709"/><line x1="223" y1="715" x2="231" y2="723"/><line x1="231" y1="715" x2="223" y2="723"/>
<circle cx="285" cy="709" r="6"/><line x1="279" y1="709" x2="291" y2="709"/><line x1="281" y1="715" x2="289" y2="723"/><line x1="289" y1="715" x2="281" y2="723"/>
<circle cx="227" cy="748" r="6"/><line x1="221" y1="748" x2="233" y2="748"/><line x1="223" y1="754" x2="231" y2="762"/><line x1="231" y1="754" x2="223" y2="762"/>
<circle cx="285" cy="748" r="6"/><line x1="279" y1="748" x2="291" y2="748"/><line x1="281" y1="754" x2="289" y2="762"/><line x1="289" y1="754" x2="281" y2="762"/>
</g>
<text class="g" x="245" y="693">TP1 0.999</text><text class="g" x="300" y="693">TP2 0.999</text>
<rect class="bx" x="245" y="698" width="20" height="14"/><text class="b" x="246" y="709">TP1</text>
<rect class="bx" x="300" y="698" width="20" height="14"/><text class="b" x="301" y="709">TP2</text>
<text class="g" x="245" y="733">TP3 0.999</text><text class="g" x="300" y="733">TP4 0.999</text>
<rect class="bx" x="245" y="738" width="20" height="14"/><text class="b" x="246" y="749">TP3</text>
<rect class="bx" x="300" y="738" width="20" height="14"/><text class="b" x="301" y="749">TP4</text>
<text x="284" y="792" class="k" style="font-size:10px">M3螺丝孔</text>

<!-- ===== title block ===== -->
<g stroke="#c47474" stroke-width="1.5" fill="none">
<rect x="468" y="646" width="700" height="178"/>
<line x1="468" y1="684" x2="1168" y2="684"/>
<line x1="468" y1="704" x2="688" y2="704"/>
<line x1="468" y1="725" x2="688" y2="725"/>
<line x1="468" y1="745" x2="688" y2="745"/>
<line x1="468" y1="765" x2="1168" y2="765"/>
<line x1="468" y1="785" x2="1168" y2="785"/>
<line x1="910" y1="665" x2="1168" y2="665"/>
<line x1="910" y1="704" x2="1168" y2="704"/>
<line x1="555" y1="646" x2="555" y2="785"/>
<line x1="688" y1="704" x2="688" y2="824"/>
<line x1="768" y1="765" x2="768" y2="824"/>
<line x1="848" y1="765" x2="848" y2="824"/>
<line x1="910" y1="646" x2="910" y2="704"/>
<line x1="1010" y1="646" x2="1010" y2="704"/>
</g>
<g class="m">
<text x="477" y="670">Schematic</text>
<text x="479" y="701">Page</text>
<text x="477" y="721">Drawed</text>
<text x="477" y="741">Reviewed</text>
<text x="916" y="661">Update Date</text>
<text x="916" y="681">Create Date</text>
<text x="916" y="700">Part Number</text>
<text x="716" y="781">VER</text>
<text x="792" y="781">SIZE</text>
<text x="917" y="779">PAGE</text>
<text x="1040" y="779">OF</text>
</g>
<text class="tb" x="703" y="671" style="font-size:16px">电源下板</text>
<text class="tb" x="719" y="699" style="font-size:12px">bottom</text>
<text class="tb" x="1020" y="660" style="font-size:12px">2023-08-31</text>
<text class="tb" x="1020" y="680" style="font-size:12px">2023-08-31</text>
<text class="tb" x="693" y="740" style="font-size:15.5px">【 2023电赛】E题运动目标控制与自动追踪系统-STI_K06队</text>
<text class="tb" x="992" y="778" style="font-size:12px">1</text>
<text class="tb" x="1108" y="778" style="font-size:12px">1</text>
<text class="tb" x="714" y="810" style="font-size:13px">V1.0</text>
<text class="tb" x="800" y="810" style="font-size:13px">A4</text>
<text class="tb" x="962" y="811" style="font-size:16px">嘉立创EDA</text>
<g fill="none" stroke="#4a8ee8" stroke-width="3">
<path d="M505 810 Q497 810 497 802 Q497 794 506 795 Q508 787 516 789 Q524 790 524 798 Q530 800 528 806 Q526 810 520 810"/>
<circle cx="510" cy="808" r="3"/>
</g>
<text x="530" y="811" style="fill:#4a8ee8;font-family:'Liberation Sans','Noto Sans CJK SC',sans-serif;font-size:19px;font-weight:bold;font-style:italic">嘉立创EDA</text>
</svg>
</body></html>
